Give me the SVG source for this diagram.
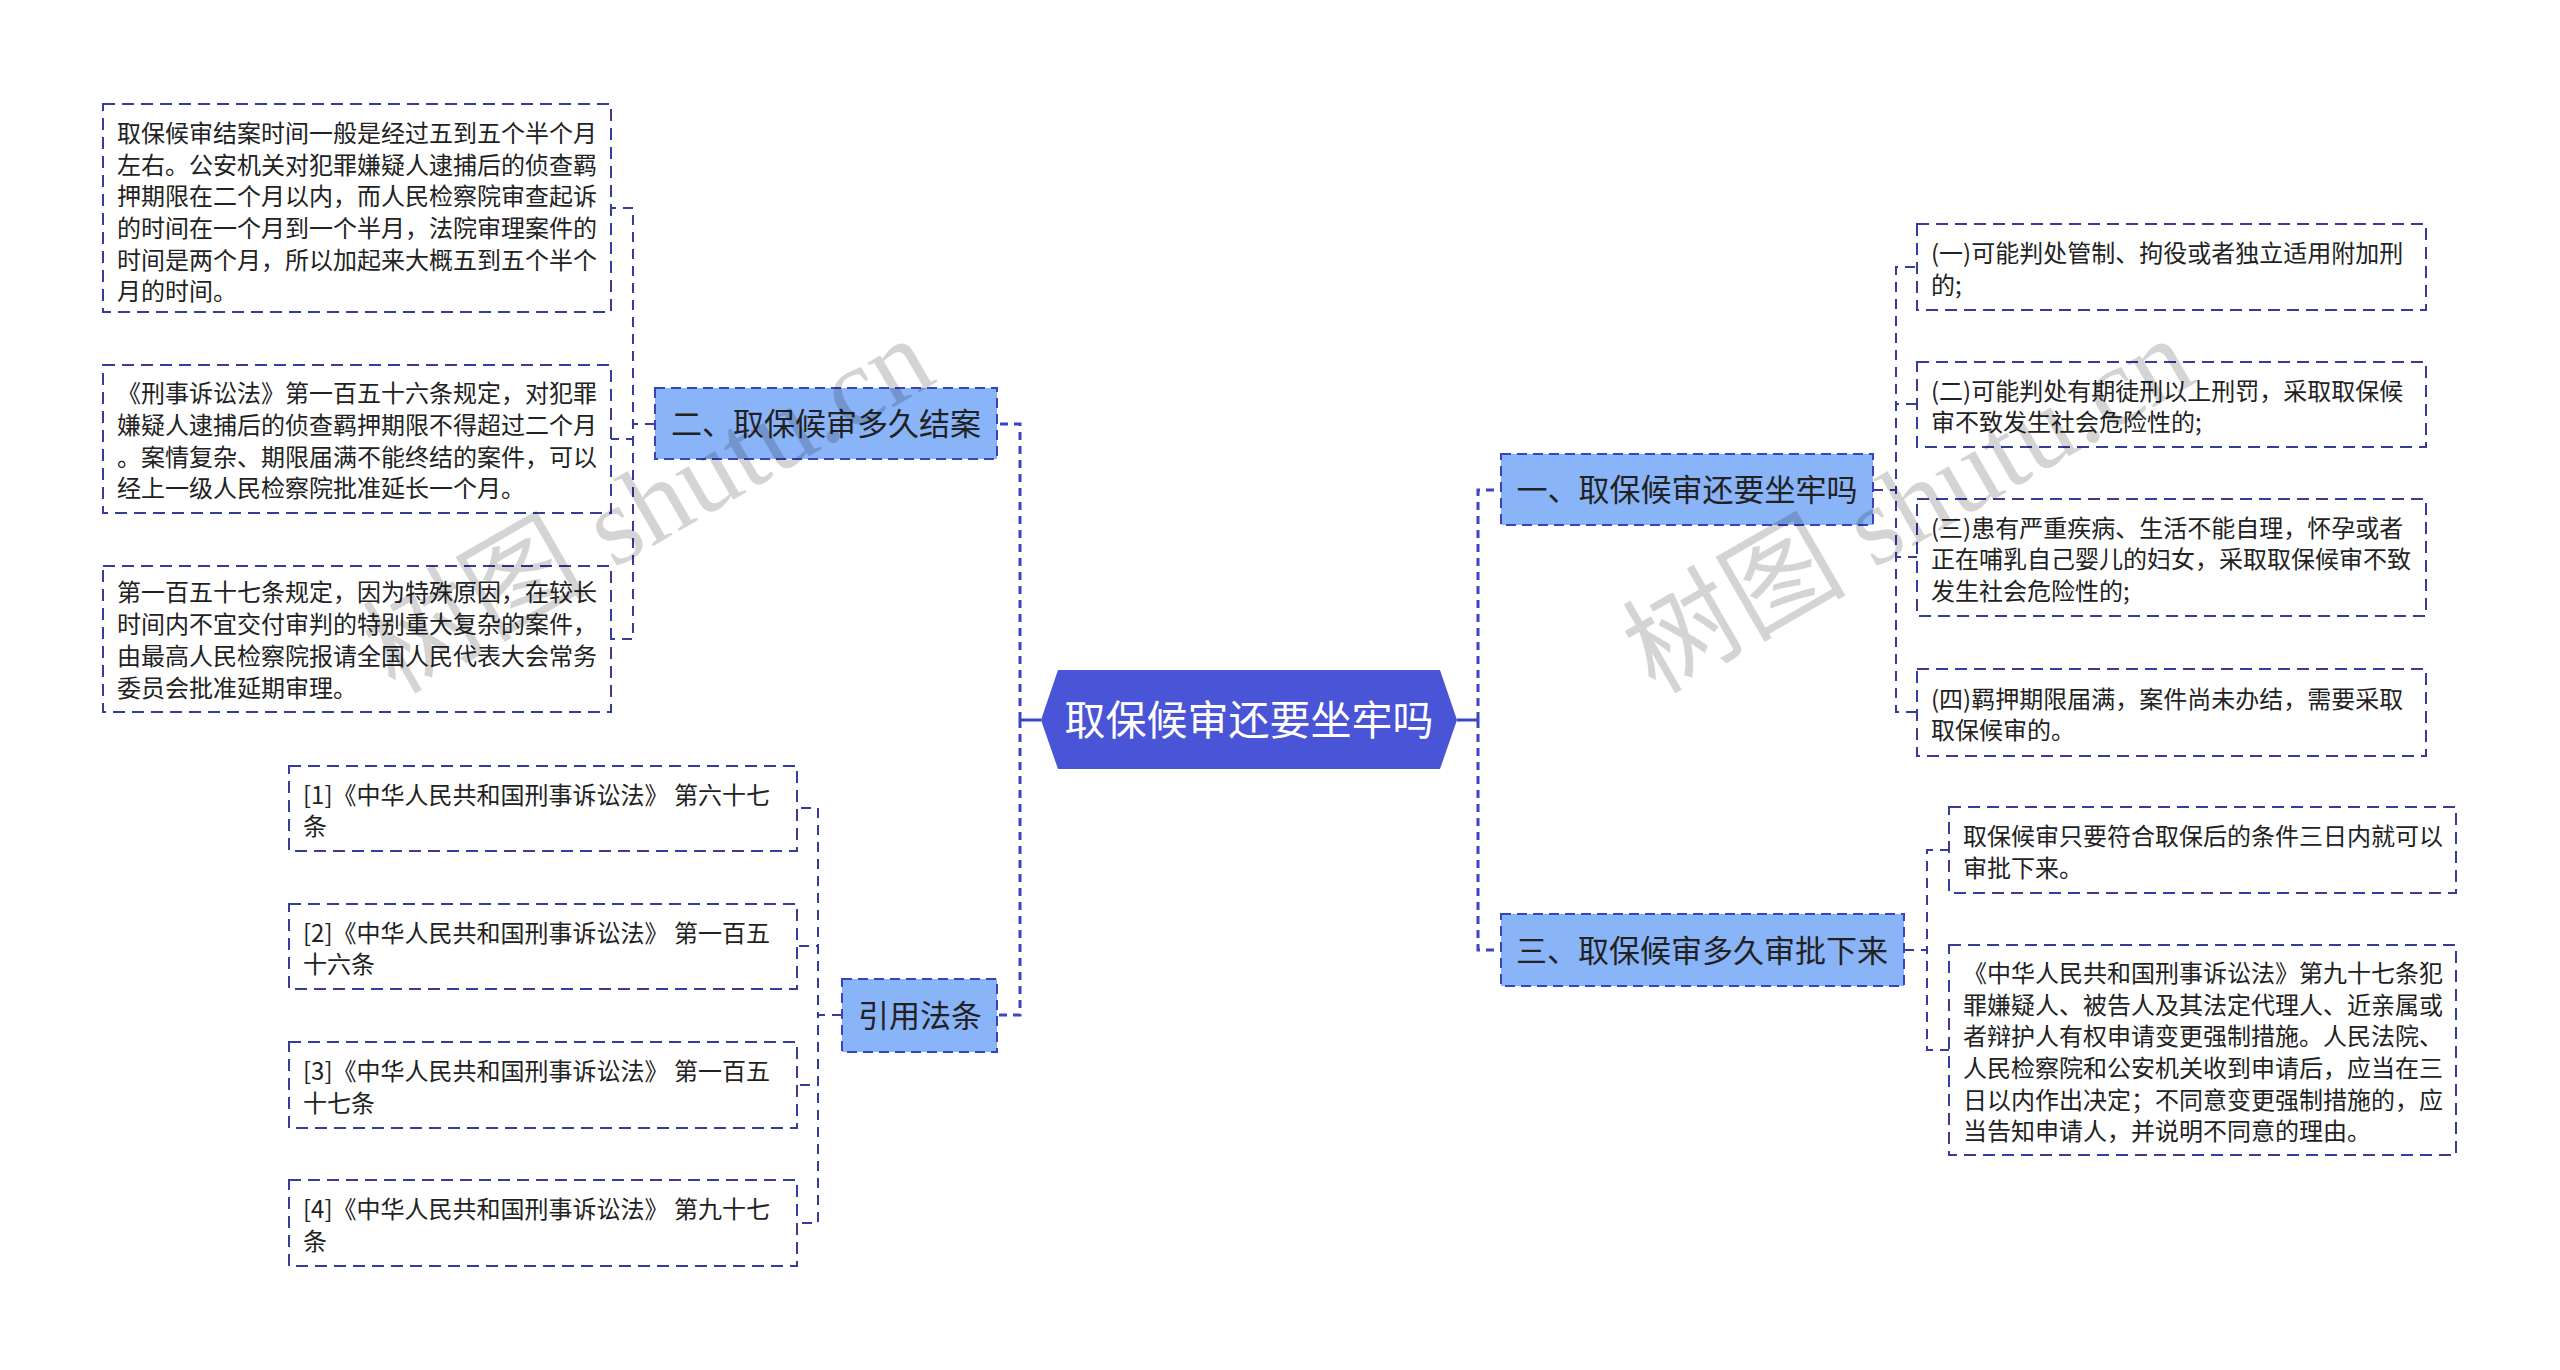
<svg xmlns="http://www.w3.org/2000/svg" width="2560" height="1370" viewBox="0 0 2560 1370">
<style>
.bg{fill:#ffffff}
.leaf rect{fill:none;stroke:#363c9c;stroke-width:2;stroke-dasharray:12 7}
.leaf text{font-family:"Noto Sans CJK SC","Noto Sans",sans-serif;font-size:24px;fill:#222222}
.branch rect{fill:#8ab4f8;stroke:#3a42c0;stroke-width:2;stroke-dasharray:10 6}
.branch text{font-family:"Noto Sans CJK SC","Noto Sans",sans-serif;font-size:31px;fill:#222222;text-anchor:middle}
.root polygon{fill:#4a54d6}
.root text{font-family:"Noto Sans CJK SC","Noto Sans",sans-serif;font-size:41px;fill:#ffffff;text-anchor:middle}
.trunk{fill:none;stroke:#3c45c6;stroke-width:3;stroke-dasharray:8 6}
.solid{fill:none;stroke:#3c45c6;stroke-width:3}
.sub{fill:none;stroke:#363c9c;stroke-width:2;stroke-dasharray:10 7}
.wm{font-family:"Liberation Serif","Noto Sans CJK SC",serif;font-size:112px;fill:#000000;fill-opacity:0.17}
</style>
<rect class="bg" x="0" y="0" width="2560" height="1370"/>

<g id="connectors">
  <path class="solid" d="M1041,720 H1020"/>
  <path class="solid" d="M1457,720 H1478"/>
  <path class="trunk" d="M1020,720 V424 H997"/>
  <path class="trunk" d="M1020,720 V1015 H997"/>
  <path class="trunk" d="M1478,720 V490 H1501"/>
  <path class="trunk" d="M1478,720 V950 H1501"/>

  <path class="sub" d="M655,424 H633 V208 H611"/>
  <path class="sub" d="M655,424 H633 V439 H611"/>
  <path class="sub" d="M655,424 H633 V639 H611"/>

  <path class="sub" d="M842,1015 H818 V808 H797"/>
  <path class="sub" d="M842,1015 H818 V946 H797"/>
  <path class="sub" d="M842,1015 H818 V1085 H797"/>
  <path class="sub" d="M842,1015 H818 V1223 H797"/>

  <path class="sub" d="M1873,490 H1896 V267 H1917"/>
  <path class="sub" d="M1873,490 H1896 V404 H1917"/>
  <path class="sub" d="M1873,490 H1896 V557 H1917"/>
  <path class="sub" d="M1873,490 H1896 V712 H1917"/>

  <path class="sub" d="M1904,950 H1927 V850 H1949"/>
  <path class="sub" d="M1904,950 H1927 V1050 H1949"/>
</g>

<g id="root" class="root">
  <polygon points="1041,720 1058,670 1440,670 1457,720 1440,769 1058,769"/>
  <text x="1249" y="735">取保候审还要坐牢吗</text>
</g>

<g id="b2" class="branch">
  <rect x="655" y="388" width="342" height="71"/>
  <text x="826" y="435">二、取保候审多久结案</text>
</g>
<g id="bref" class="branch">
  <rect x="842" y="979" width="155" height="73"/>
  <text x="920" y="1027">引用法条</text>
</g>
<g id="b1" class="branch">
  <rect x="1501" y="454" width="372" height="71"/>
  <text x="1687" y="501">一、取保候审还要坐牢吗</text>
</g>
<g id="b3" class="branch">
  <rect x="1501" y="914" width="403" height="72"/>
  <text x="1702" y="962">三、取保候审多久审批下来</text>
</g>

<g id="l2a" class="leaf">
  <rect x="103" y="104" width="508" height="208"/>
  <text x="117" y="142">取保候审结案时间一般是经过五到五个半个月</text>
  <text x="117" y="174">左右。公安机关对犯罪嫌疑人逮捕后的侦查羁</text>
  <text x="117" y="205">押期限在二个月以内，而人民检察院审查起诉</text>
  <text x="117" y="237">的时间在一个月到一个半月，法院审理案件的</text>
  <text x="117" y="269">时间是两个月，所以加起来大概五到五个半个</text>
  <text x="117" y="300">月的时间。</text>
</g>
<g id="l2b" class="leaf">
  <rect x="103" y="365" width="508" height="148"/>
  <text x="117" y="402">《刑事诉讼法》第一百五十六条规定，对犯罪</text>
  <text x="117" y="434">嫌疑人逮捕后的侦查羁押期限不得超过二个月</text>
  <text x="117" y="466">。案情复杂、期限届满不能终结的案件，可以</text>
  <text x="117" y="497">经上一级人民检察院批准延长一个月。</text>
</g>
<g id="l2c" class="leaf">
  <rect x="103" y="566" width="508" height="146"/>
  <text x="117" y="601">第一百五十七条规定，因为特殊原因，在较长</text>
  <text x="117" y="633">时间内不宜交付审判的特别重大复杂的案件，</text>
  <text x="117" y="665">由最高人民检察院报请全国人民代表大会常务</text>
  <text x="117" y="697">委员会批准延期审理。</text>
</g>

<g id="ref1" class="leaf">
  <rect x="289" y="766" width="508" height="85"/>
  <text x="303" y="804">[1]《中华人民共和国刑事诉讼法》 第六十七</text>
  <text x="303" y="835">条</text>
</g>
<g id="ref2" class="leaf">
  <rect x="289" y="904" width="508" height="85"/>
  <text x="303" y="942">[2]《中华人民共和国刑事诉讼法》 第一百五</text>
  <text x="303" y="973">十六条</text>
</g>
<g id="ref3" class="leaf">
  <rect x="289" y="1042" width="508" height="86"/>
  <text x="303" y="1080">[3]《中华人民共和国刑事诉讼法》 第一百五</text>
  <text x="303" y="1112">十七条</text>
</g>
<g id="ref4" class="leaf">
  <rect x="289" y="1180" width="508" height="86"/>
  <text x="303" y="1218">[4]《中华人民共和国刑事诉讼法》 第九十七</text>
  <text x="303" y="1250">条</text>
</g>

<g id="r1" class="leaf">
  <rect x="1917" y="224" width="509" height="86"/>
  <text x="1931" y="262">(一)可能判处管制、拘役或者独立适用附加刑</text>
  <text x="1931" y="294">的;</text>
</g>
<g id="r2" class="leaf">
  <rect x="1917" y="362" width="509" height="85"/>
  <text x="1931" y="400">(二)可能判处有期徒刑以上刑罚，采取取保候</text>
  <text x="1931" y="431">审不致发生社会危险性的;</text>
</g>
<g id="r3" class="leaf">
  <rect x="1917" y="499" width="509" height="117"/>
  <text x="1931" y="537">(三)患有严重疾病、生活不能自理，怀孕或者</text>
  <text x="1931" y="568">正在哺乳自己婴儿的妇女，采取取保候审不致</text>
  <text x="1931" y="600">发生社会危险性的;</text>
</g>
<g id="r4" class="leaf">
  <rect x="1917" y="669" width="509" height="87"/>
  <text x="1931" y="708">(四)羁押期限届满，案件尚未办结，需要采取</text>
  <text x="1931" y="739">取保候审的。</text>
</g>

<g id="s1" class="leaf">
  <rect x="1949" y="807" width="507" height="86"/>
  <text x="1963" y="845">取保候审只要符合取保后的条件三日内就可以</text>
  <text x="1963" y="877">审批下来。</text>
</g>
<g id="s2" class="leaf">
  <rect x="1949" y="945" width="507" height="210"/>
  <text x="1963" y="982">《中华人民共和国刑事诉讼法》第九十七条犯</text>
  <text x="1963" y="1014">罪嫌疑人、被告人及其法定代理人、近亲属或</text>
  <text x="1963" y="1045">者辩护人有权申请变更强制措施。人民法院、</text>
  <text x="1963" y="1077">人民检察院和公安机关收到申请后，应当在三</text>
  <text x="1963" y="1109">日以内作出决定；不同意变更强制措施的，应</text>
  <text x="1963" y="1140">当告知申请人，并说明不同意的理由。</text>
</g>

<g id="watermarks">
  <text class="wm" transform="translate(395,695) rotate(-30)">树图 shutu.cn</text>
  <text class="wm" transform="translate(1655,695) rotate(-30)">树图 shutu.cn</text>
</g>
</svg>
